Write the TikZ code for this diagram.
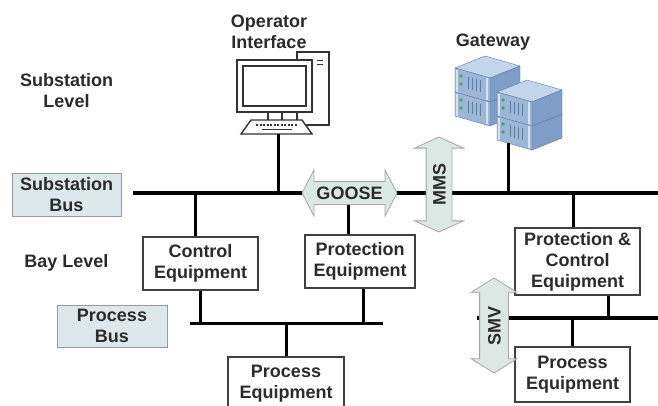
\documentclass[tikz,border=0pt]{standalone}
\usepackage{fontspec}
\setmainfont{Liberation Sans}
\usepackage{tikz}
\usetikzlibrary{calc,shapes.arrows}
\definecolor{labelfill}{HTML}{DDE8EC}
\definecolor{arrowfill}{HTML}{DCE8E4}
\definecolor{inkgrey}{HTML}{2B2B2B}
\definecolor{srvfront}{HTML}{9CB7D6}
\definecolor{srvtop}{HTML}{C3D5EA}
\definecolor{srvside}{HTML}{7E9EC6}
\definecolor{srvedge}{HTML}{5E7EA6}
\definecolor{ledgreen}{HTML}{4E9A6A}

% one rack unit of the gateway, #1 = top left corner of its front
\newcommand{\srvunit}[1]{%
\begin{scope}[shift={#1},draw=srvedge,line width=.4pt]
 \filldraw[fill=srvtop] (0,0) -- (30,-12) -- (65,-2) -- (35,10) -- cycle;
 \filldraw[fill=srvside] (35,10) -- (65,-2) -- (65,22) -- (35,34) -- cycle;
 \filldraw[fill=srvfront] (0,0) -- (35,10) -- (35,34) -- (0,24) -- cycle;
 \draw[white!60!srvfront,line width=1.2pt] (2,1.5) -- (2,23.5) (32,10) -- (32,32);
 \foreach \k in {0,...,3} \draw (13+4*\k,{5+0.286*(13+4*\k)}) -- ++(0,12);
 \fill[ledgreen] (6,8) circle (1.8pt) (6,16) circle (1.8pt);
\end{scope}}

\begin{document}
\begin{tikzpicture}[x=1pt,y=-1pt,font=\fontsize{18}{21}\selectfont\bfseries,text=inkgrey]

\tikzset{eqbox/.style={draw=black!75,line width=1.2pt,fill=white,align=center,inner sep=0pt},
busbox/.style={draw=black!40,line width=.8pt,fill=labelfill,align=center,inner sep=0pt},
flowarrow/.style={double arrow,draw=black!35,line width=.8pt,fill=arrowfill,inner xsep=0pt,minimum height=95pt,text height=13pt,text depth=0pt,double arrow tip angle=125},
bus/.style={line width=3.5pt},
drop/.style={line width=3pt}}

\useasboundingbox (0,0) rectangle (658,405);
\fill[white] (0,0) rectangle (658,405);
\clip (0,0) rectangle (658,405);

% Levels and bus labels
\node[align=center] (subLevel) at (66.5,91) {Substation\\Level};
\node (bayLevel) at (66.5,263) {Bay Level};
\node[busbox,minimum width=109,minimum height=43] (subBus) at (66.5,194.5) {Substation\\Bus};
\node[busbox,minimum width=110,minimum height=42] (procBus) at (112,326) {Process\\Bus};

% Operator interface (computer)
\node[align=center] (opLabel) at (269,31.5) {Operator\\Interface};
\begin{scope}[draw=black!80,line width=1.4pt]
\filldraw[fill=white] (297,52) rectangle (329,125); % tower
\draw[line width=1pt] (317,60) -- (323,60) (317,64) -- (323,64);
\filldraw[fill=white] (237,60) rectangle (312,112); % monitor
\draw (243,66) rectangle (306,106);
\draw (268,112) -- (268,120) (282,112) -- (282,120);
\filldraw[fill=white] (251,120) -- (302,120) -- (312,134) -- (241,134) -- cycle; % keyboard
\draw[line width=1.6pt,dash pattern=on 2pt off 1.5pt] (256,125) -- (297,125);
\draw (262,129.5) -- (292,129.5);
\end{scope}
\coordinate (opint) at (278,134);

% Gateway (two stacks of servers)
\node (gwLabel) at (493,42) {Gateway};
\srvunit{(455,92)} \srvunit{(455,68)}
\srvunit{(497,116)} \srvunit{(497,92)}
\coordinate (gwfoot) at (508,143);

% Equipment
\node[eqbox,minimum width=115,minimum height=53] (ctrl) at (200.5,263.5) {Control\\Equipment};
\node[eqbox,minimum width=110,minimum height=53] (prot) at (360,261.5) {Protection\\Equipment};
\node[eqbox,minimum width=125,minimum height=67] (pcEq) at (577.5,261.5) {Protection \&\\Control\\Equipment};
\node[eqbox,minimum width=116,minimum height=53] (procL) at (286,383.5) {Process\\Equipment};
\node[eqbox,minimum width=115,minimum height=55] (procR) at (572.5,374.5) {Process\\Equipment};

% Buses
\coordinate (sbL) at (133,193); \coordinate (sbR) at (658,193);
\coordinate (pbL) at (190,323.5); \coordinate (pbLr) at (383,323.5);
\coordinate (pbR) at (477,318); \coordinate (pbRr) at (658,318);
\draw[bus] (sbL) -- (sbR); \draw[bus] (pbL) -- (pbLr); \draw[bus] (pbR) -- (pbRr);

% Drops to the buses
\draw[drop] (opint) -- (opint |- sbL); \draw[drop] (gwfoot) -- (gwfoot |- sbL);
\draw[drop] ([xshift=-5.5pt]ctrl.north) -- ++(0,-44); \draw[drop] (ctrl.south) -- (ctrl.south |- pbL);
\draw[drop] ([xshift=-12pt]prot.north) -- ++(0,-42); \draw[drop] ([xshift=3pt]prot.south) -- ++(0,35.5);
\draw[drop] (procL.north) -- (procL.north |- pbL);
\draw[drop] ([xshift=-4.5pt]pcEq.north) -- ++(0,-35); \draw[drop] ([xshift=30.5pt]pcEq.south) -- ++(0,23);
\draw[drop] (procR.north) -- (procR.north |- pbR);

% Message flows
\node[flowarrow,inner ysep=4.5pt,double arrow head extend=11.5pt] (goose) at (349.5,193) {GOOSE};
\node[flowarrow,rotate=90,inner ysep=6pt,double arrow head extend=11.5pt,double arrow tip angle=131] (mms) at (439,184.5) {MMS};
\node[flowarrow,rotate=90,inner ysep=7.5pt,double arrow head extend=8.5pt,double arrow tip angle=116] (smv) at (494,325.5) {SMV};

\end{tikzpicture}
\end{document}
